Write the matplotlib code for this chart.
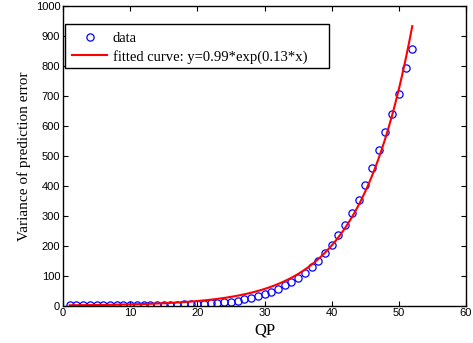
import numpy as np
import matplotlib
matplotlib.use("Agg")
import matplotlib.pyplot as plt
from matplotlib.patches import Rectangle

qp = list(range(1, 53))
variance = [1, 1, 1, 1, 1, 1, 1, 1, 1, 1.5,
            1.5, 2, 2, 2.5, 3, 3, 4, 5, 5, 6,
            7, 8, 10, 12, 14, 17, 21, 26, 31, 38,
            47, 56, 69, 80, 93, 110, 129, 150, 177, 203,
            236, 269, 308, 353, 403, 460, 519, 579, 639, 706,
            792, 857]
fit_a = 1.2
fit_b = 0.128
fit_range = (1, 52)
legend_labels = ["data", "fitted curve: y=0.99*exp(0.13*x)"]
xticks = [0, 10, 20, 30, 40, 50, 60]
yticks = list(range(0, 1001, 100))

W, H = 473, 343
fig = plt.figure(figsize=(W/100, H/100), dpi=100)
ax_l, ax_r, ax_t, ax_b = 63, 466, 6, 305.7
ax = fig.add_axes([ax_l/W, 1-ax_b/H, (ax_r-ax_l)/W, (ax_b-ax_t)/H])

ax.plot(qp, variance, 'o', mfc='none', mec='#0000ff', ms=5.2, mew=0.9, label=legend_labels[0])
xf = np.linspace(fit_range[0], fit_range[1], 300)
ax.plot(xf, fit_a*np.exp(fit_b*xf), color='#ff0000', lw=1.5, label=legend_labels[1])

ax.set_xlim(0, 60)
ax.set_ylim(0, 1000)
ax.set_xticks(xticks)
ax.set_yticks(yticks)
ax.tick_params(direction='in', top=True, right=True, length=3.5, width=0.8,
               labelsize=8, pad=2, colors='black')
for lab in ax.get_xticklabels() + ax.get_yticklabels():
    lab.set_fontfamily('Liberation Sans')
for s in ax.spines.values():
    s.set_linewidth(1.0)

ax.set_xlabel('QP', family='Liberation Serif', fontsize=12, labelpad=3)
ax.set_ylabel('Variance of prediction error', family='Liberation Serif', fontsize=11, labelpad=3)

# legend frame (MATLAB-style, wider than content)
lx0, lx1, ly0, ly1 = 65, 329, 24, 68
aw, ah = ax_r-ax_l, ax_b-ax_t
frame = Rectangle(((lx0-ax_l)/aw, 1-(ly1-ax_t)/ah), (lx1-lx0)/aw, (ly1-ly0)/ah,
                  transform=ax.transAxes, facecolor='white', edgecolor='black',
                  lw=1.0, zorder=4)
ax.add_patch(frame)
leg = ax.legend(loc='upper left', bbox_to_anchor=((lx0-ax_l+2)/aw, 1-(ly0-ax_t+3)/ah), borderaxespad=0,
                prop={'family': 'Liberation Serif', 'size': 10.5},
                frameon=False,
                handlelength=2.4, handletextpad=0.4, borderpad=0.35, labelspacing=0.3)
leg.set_zorder(5)

fig.savefig('out.png', dpi=100)
